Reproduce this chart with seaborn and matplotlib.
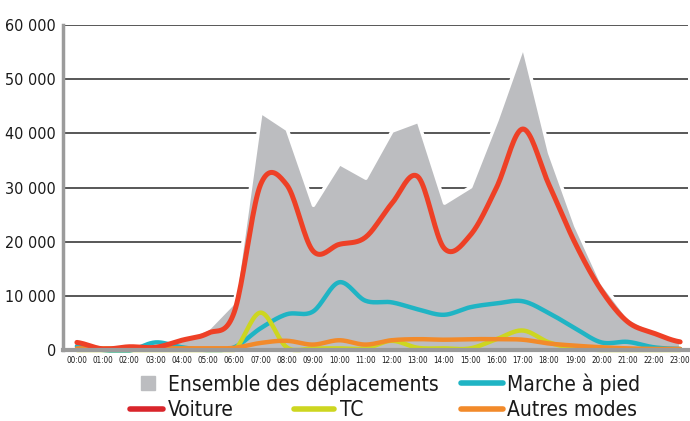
import numpy as np
import pandas as pd
import matplotlib
matplotlib.use("Agg")
import matplotlib.pyplot as plt
from matplotlib.lines import Line2D
from matplotlib.patches import Rectangle
from matplotlib import font_manager
import seaborn as sns

hours = list(range(24))
hour_labels = [f"{h:02d}:00" for h in hours]
ensemble = [1500, 400, 600, 1000, 2000, 4000, 9000, 44000, 40800, 26800, 34500, 31800,
            40500, 42300, 27200, 30200, 42500, 56200, 36500, 23000, 12400, 6000, 3500, 1500]
voiture = [1400, 200, 600, 500, 1800, 3100, 7000, 30500, 30500, 18300, 19500, 20800,
           27000, 32000, 18800, 21200, 30000, 40800, 30500, 19700, 11000, 5200, 3100, 1500]
marche = [700, 0, -100, 1400, 500, 0, 500, 4000, 6600, 7100, 12500, 9100,
          8800, 7500, 6500, 7900, 8600, 9000, 6800, 4000, 1400, 1500, 500, 200]
tc = [0, 0, 0, 0, 0, 0, 0, 6900, 500, 300, 300, 300,
      1700, 400, 300, 300, 2000, 3600, 1400, 300, 0, 0, 0, 0]
autres = [300, 300, 300, 300, 300, 300, 400, 1300, 1700, 1000, 1800, 1000,
          1800, 2000, 1900, 2000, 2000, 1900, 1200, 800, 500, 300, 200, 200]
yticks = [0, 10000, 20000, 30000, 40000, 50000, 60000]
ytick_labels = ["0", "10 000", "20 000", "30 000", "40 000", "50 000", "60 000"]
legend_labels = ["Ensemble des déplacements", "Marche à pied", "Voiture", "TC", "Autres modes"]

C_GRAY = "#BCBDC0"
C_CYAN = "#1FB4C4"
C_RED = "#EE4026"
C_RED_LEG = "#D9252B"
C_YEL = "#CDD620"
C_ORA = "#F28A2A"


def smooth(x, y, n=20):
    """Catmull-Rom smoothing for drawing (display only)."""
    x = np.asarray(x, float)
    y = np.asarray(y, float)
    xp = np.concatenate([[2 * x[0] - x[1]], x, [2 * x[-1] - x[-2]]])
    yp = np.concatenate([[y[0]], y, [y[-1]]])
    xs, ys = [], []
    t = np.linspace(0, 1, n, endpoint=False)
    for i in range(1, len(xp) - 2):
        p0, p1, p2, p3 = yp[i - 1], yp[i], yp[i + 1], yp[i + 2]
        m1 = (p2 - p0) / 2
        m2 = (p3 - p1) / 2
        h00 = 2 * t**3 - 3 * t**2 + 1
        h10 = t**3 - 2 * t**2 + t
        h01 = -2 * t**3 + 3 * t**2
        h11 = t**3 - t**2
        ys.append(h00 * p1 + h10 * m1 + h01 * p2 + h11 * m2)
        xs.append(xp[i] + t * (xp[i + 1] - xp[i]))
    xs.append([x[-1]])
    ys.append([y[-1]])
    ys = np.concatenate(ys)
    ys = np.maximum(ys, y.min())
    return np.concatenate(xs), ys


sns.set_theme(style="white")
plt.rcParams["font.family"] = ["DejaVu Sans"]
plt.rcParams["font.stretch"] = "condensed"


def fp(size):
    return font_manager.FontProperties(family="DejaVu Sans", stretch="condensed", size=size)


W, H = 690, 421
fig = plt.figure(figsize=(W / 100, H / 100), dpi=100)
ax = fig.add_axes([63 / W, 1 - 350 / H, (688 - 63) / W, (350 - 25) / H])

for v in yticks[1:]:
    ax.axhline(v, color="#4a4a4a", lw=1.3, zorder=1)

ax.fill_between(hours, ensemble, 0, color=C_GRAY, edgecolor="white", lw=2.5, zorder=2)

for series, col, lw, z in [(marche, C_CYAN, 3.2, 3), (tc, C_YEL, 3.2, 4),
                           (autres, C_ORA, 3.2, 5), (voiture, C_RED, 3.6, 6)]:
    sx, sy = smooth(hours, series)
    sns.lineplot(x=sx, y=sy, ax=ax, color=col, lw=lw, zorder=z, sort=False,
                 solid_capstyle="round", clip_on=False)

ax.set_xlim(-0.53, 23.3)
ax.set_ylim(0, 60000)
ax.set_yticks(yticks)
ax.set_yticklabels(ytick_labels, fontproperties=fp(11.5), color="#1a1a1a")
ax.set_xticks(hours)
ax.set_xticklabels(hour_labels, fontproperties=fp(5.8), color="#1a1a1a")
ax.tick_params(axis="both", length=0)
ax.tick_params(axis="y", pad=5)
ax.tick_params(axis="x", pad=4)
ax.set_xlabel("")
ax.set_ylabel("")

for s in ["top", "right"]:
    ax.spines[s].set_visible(False)
ax.spines["left"].set_color("#9b9b9b")
ax.spines["left"].set_linewidth(2.5)
ax.spines["bottom"].set_color("#9b9b9b")
ax.spines["bottom"].set_linewidth(3)
ax.spines["left"].set_zorder(7)
ax.spines["bottom"].set_zorder(7)


def fx(px):
    return px / W


def fy(py):
    return 1 - py / H


LFP = fp(15)
# Row 1
fig.add_artist(Rectangle((fx(141), fy(390)), 14 / W, 14 / H, color=C_GRAY, transform=fig.transFigure))
fig.text(fx(168), fy(384), legend_labels[0], fontproperties=LFP, va="center", ha="left", color="#1a1a1a")
fig.add_artist(Line2D([fx(461), fx(503)], [fy(383), fy(383)], color=C_CYAN, lw=4,
                      solid_capstyle="round", transform=fig.transFigure))
fig.text(fx(507), fy(384), legend_labels[1], fontproperties=LFP, va="center", ha="left", color="#1a1a1a")
# Row 2
fig.add_artist(Line2D([fx(130), fx(163)], [fy(409), fy(409)], color=C_RED_LEG, lw=4,
                      solid_capstyle="round", transform=fig.transFigure))
fig.text(fx(168), fy(410), legend_labels[2], fontproperties=LFP, va="center", ha="left", color="#1a1a1a")
fig.add_artist(Line2D([fx(294), fx(334)], [fy(409), fy(409)], color=C_YEL, lw=4,
                      solid_capstyle="round", transform=fig.transFigure))
fig.text(fx(340), fy(410), legend_labels[3], fontproperties=LFP, va="center", ha="left", color="#1a1a1a")
fig.add_artist(Line2D([fx(461), fx(503)], [fy(409), fy(409)], color=C_ORA, lw=4,
                      solid_capstyle="round", transform=fig.transFigure))
fig.text(fx(507), fy(410), legend_labels[4], fontproperties=LFP, va="center", ha="left", color="#1a1a1a")

fig.savefig("out.png", dpi=100, facecolor="white")
